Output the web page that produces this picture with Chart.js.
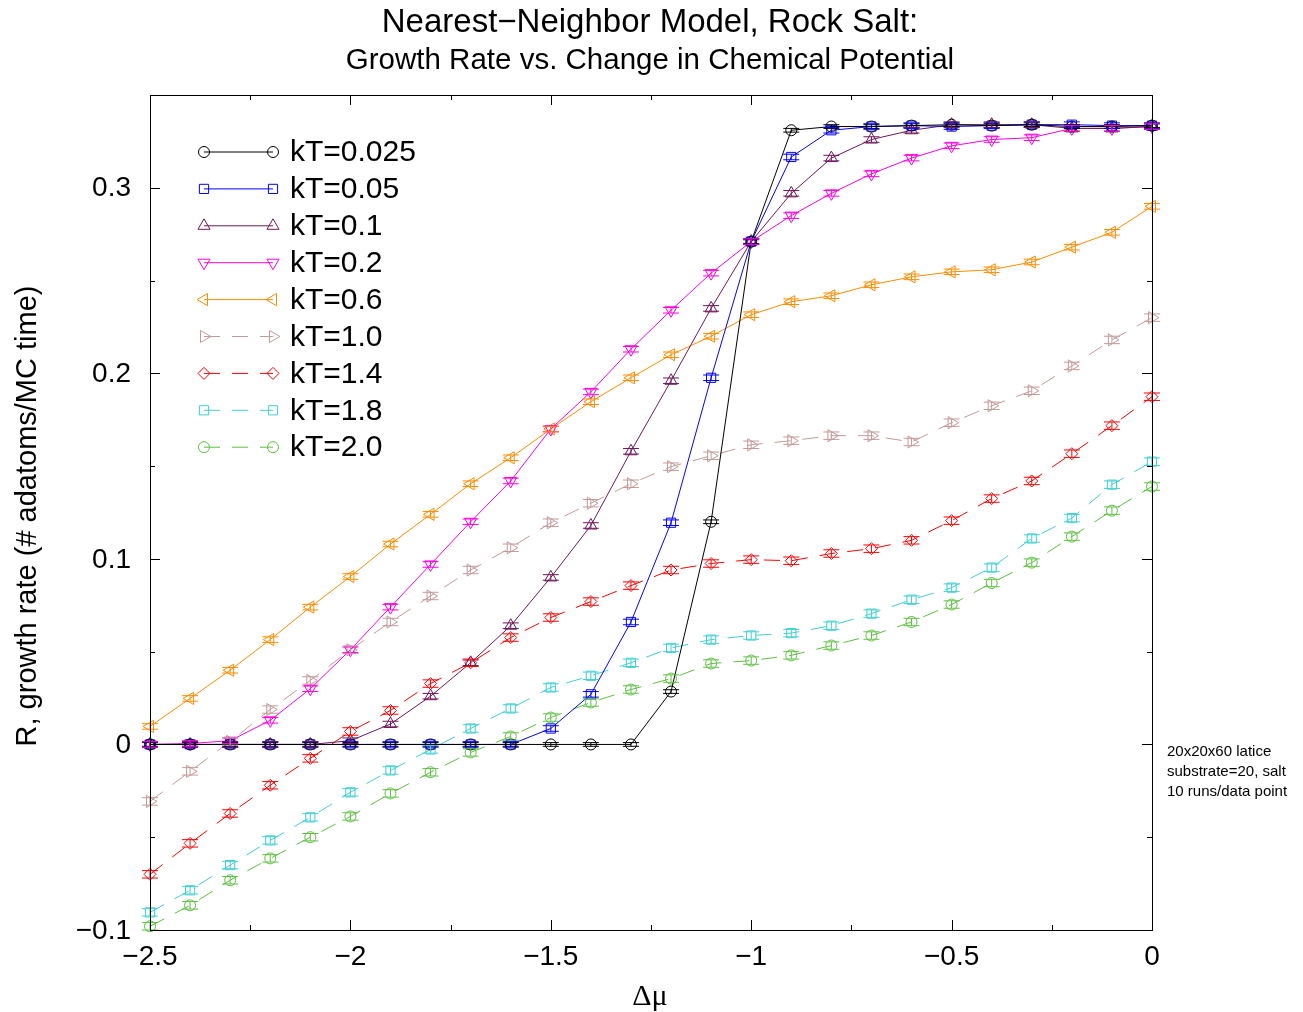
<!DOCTYPE html>
<html>
<head>
<meta charset="utf-8">
<script src="https://cdn.jsdelivr.net/npm/chart.js@4.4.1/dist/chart.umd.min.js"></script>
<style>
  body { margin: 0; background: #fff; }
  #wrap { width: 1303px; height: 1012px; }
</style>
</head>
<body>
<div id="wrap"><canvas id="chart" width="1303" height="1012"></canvas></div>
<script>
// Delta mu values (x axis)
var dmu = [-2.5, -2.4, -2.3, -2.2, -2.1, -2.0, -1.9, -1.8, -1.7, -1.6, -1.5, -1.4, -1.3,
           -1.2, -1.1, -1.0, -0.9, -0.8, -0.7, -0.6, -0.5, -0.4, -0.3, -0.2, -0.1, 0];

var kT0025 = [0, 0, 0, 0, 0, 0, 0, 0, 0, 0, 0, 0, 0,
              0.0285, 0.120, 0.271, 0.331, 0.333, 0.333, 0.3335, 0.334, 0.3335, 0.334, 0.333, 0.333, 0.3335];
var kT005 = [0, 0, 0, 0, 0, 0, 0, 0, 0, 0, 0.0086, 0.027, 0.066,
             0.1195, 0.1976, 0.271, 0.3166, 0.331, 0.333, 0.3335, 0.333, 0.3335, 0.334, 0.334, 0.3335, 0.3335];
var kT01 = [0, 0, 0, 0, 0, 0.002, 0.011, 0.026, 0.044, 0.064, 0.090, 0.118, 0.158,
            0.196, 0.235, 0.271, 0.297, 0.316, 0.326, 0.331, 0.334, 0.334, 0.334, 0.332, 0.332, 0.333];
var kT02 = [0, 0.0005, 0.002, 0.013, 0.030, 0.051, 0.074, 0.097, 0.120, 0.142, 0.170, 0.190, 0.213,
            0.234, 0.254, 0.271, 0.285, 0.297, 0.3075, 0.316, 0.3226, 0.326, 0.327, 0.332, 0.332, 0.333];
var kT06 = [0.0097, 0.0248, 0.040, 0.0565, 0.074, 0.0905, 0.108, 0.124, 0.1405, 0.1545, 0.170, 0.1847, 0.1976,
            0.210, 0.220, 0.2316, 0.2386, 0.2418, 0.2477, 0.252, 0.2547, 0.2558, 0.260, 0.268, 0.276, 0.290];
var kT10 = [-0.0307, -0.0145, 0.0016, 0.0188, 0.0345, 0.051, 0.066, 0.080, 0.094, 0.106, 0.1195, 0.130, 0.1405,
            0.1497, 0.1556, 0.1615, 0.1637, 0.1664, 0.1664, 0.163, 0.1734, 0.1825, 0.1906, 0.204, 0.218, 0.230];
var kT14 = [-0.070, -0.0533, -0.0372, -0.022, -0.0075, 0.007, 0.0183, 0.0328, 0.044, 0.0576, 0.0684, 0.077, 0.0856,
            0.094, 0.0975, 0.0996, 0.099, 0.1029, 0.1055, 0.110, 0.1206, 0.1325, 0.142, 0.1567, 0.1718, 0.1874];
var kT18 = [-0.0905, -0.0786, -0.065, -0.0517, -0.0393, -0.0258, -0.014, -0.0027, 0.0086, 0.0194, 0.0307, 0.037, 0.044,
            0.052, 0.0565, 0.0587, 0.060, 0.064, 0.0705, 0.078, 0.0845, 0.0953, 0.111, 0.122, 0.140, 0.1524];
var kT20 = [-0.098, -0.0867, -0.0732, -0.0614, -0.050, -0.0388, -0.0264, -0.015, -0.0043, 0.0043, 0.0145, 0.0226, 0.0296,
            0.0355, 0.0436, 0.0452, 0.048, 0.0533, 0.0587, 0.066, 0.0754, 0.087, 0.098, 0.112, 0.126, 0.139];

// rough error bar size per series
var errs = [0.001, 0.0015, 0.0015, 0.0015, 0.0015, 0.002, 0.002, 0.002, 0.002];

var labels = ['kT=0.025', 'kT=0.05', 'kT=0.1', 'kT=0.2', 'kT=0.6', 'kT=1.0', 'kT=1.4', 'kT=1.8', 'kT=2.0'];
var xTicks = [-2.5, -2, -1.5, -1, -0.5, 0];
var yTicks = [-0.1, 0, 0.1, 0.2, 0.3];

var seriesValues = [kT0025, kT005, kT01, kT02, kT06, kT10, kT14, kT18, kT20];
var colors = ['#000000', '#0000ff', '#6e1858', '#ff00e0', '#ff8c00', '#c39a9a', '#ff0000', '#40d0d0', '#5cc040'];
var styles = ['circle', 'rect', 'triangle', 'triangle', 'triangle', 'triangle', 'rectRot', 'rect', 'circle'];
var rotations = [0, 0, 0, 180, 270, 90, 0, 0, 0];
var radii = [5.5, 6.5, 7, 7, 7, 7, 6, 6.5, 5.5];
var dash = [[], [], [], [], [], [16, 12], [16, 12], [16, 12], [16, 12]];

var FONT = '"Liberation Sans", Arial, sans-serif';

function minus(v) {
    return String(v).replace('-', '\u2212');
}

var datasets = seriesValues.map(function(vals, i) {
    return {
        label: labels[i],
        data: vals.map(function(v, j) { return { x: dmu[j], y: v }; }),
        borderColor: colors[i],
        backgroundColor: 'rgba(0,0,0,0)',
        borderWidth: 1,
        borderDash: dash[i],
        pointStyle: styles[i],
        pointRotation: rotations[i],
        pointRadius: radii[i],
        pointBorderWidth: 1,
        pointBorderColor: colors[i],
        pointBackgroundColor: 'rgba(0,0,0,0)',
        tension: 0,
        clip: false,
        err: errs[i]
    };
});

// error bars, frame, inside ticks, tick labels, legend and texts
var decorPlugin = {
    id: 'decor',
    afterDatasetsDraw: function(chart) {
        var ctx = chart.ctx;
        var xs = chart.scales.x, ys = chart.scales.y;
        chart.data.datasets.forEach(function(ds) {
            ctx.save();
            ctx.strokeStyle = ds.borderColor;
            ctx.lineWidth = 1;
            ds.data.forEach(function(p) {
                var px = xs.getPixelForValue(p.x);
                var y1 = ys.getPixelForValue(p.y + ds.err);
                var y2 = ys.getPixelForValue(p.y - ds.err);
                ctx.beginPath();
                ctx.moveTo(px, y1); ctx.lineTo(px, y2);
                ctx.moveTo(px - 8, y1); ctx.lineTo(px + 8, y1);
                ctx.moveTo(px - 8, y2); ctx.lineTo(px + 8, y2);
                ctx.stroke();
            });
            ctx.restore();
        });
    },
    afterDraw: function(chart) {
        var ctx = chart.ctx;
        var a = chart.chartArea;
        var xs = chart.scales.x, ys = chart.scales.y;
        ctx.save();
        ctx.strokeStyle = '#000';
        ctx.lineWidth = 1;
        ctx.strokeRect(a.left + 0.5, a.top + 0.5, a.right - a.left, a.bottom - a.top);
        ctx.beginPath();
        for (var v = -2.5; v <= 0.001; v += 0.25) {
            var px = Math.round(xs.getPixelForValue(v)) + 0.5;
            var len = (Math.abs(v * 2 - Math.round(v * 2)) < 0.01) ? 10 : 5;
            ctx.moveTo(px, a.bottom); ctx.lineTo(px, a.bottom - len);
            ctx.moveTo(px, a.top); ctx.lineTo(px, a.top + len);
        }
        for (var w = -0.1; w <= 0.351; w += 0.05) {
            var py = Math.round(ys.getPixelForValue(w)) + 0.5;
            var l2 = (Math.abs(w * 10 - Math.round(w * 10)) < 0.01) ? 10 : 5;
            ctx.moveTo(a.left, py); ctx.lineTo(a.left + l2, py);
            ctx.moveTo(a.right, py); ctx.lineTo(a.right - l2, py);
        }
        ctx.stroke();

        // tick labels
        ctx.fillStyle = '#000';
        ctx.font = '28px ' + FONT;
        ctx.textBaseline = 'middle';
        ctx.textAlign = 'center';
        xTicks.forEach(function(t) {
            ctx.fillText(minus(t), xs.getPixelForValue(t), 957);
        });
        ctx.textAlign = 'right';
        yTicks.forEach(function(t) {
            ctx.fillText(minus(t), 131, ys.getPixelForValue(t) + 1);
        });

        // legend
        chart.data.datasets.forEach(function(ds, i) {
            var ly = 152 + i * 36.9;
            ctx.save();
            ctx.strokeStyle = ds.borderColor;
            ctx.lineWidth = 1;
            ctx.setLineDash(ds.borderDash);
            ctx.beginPath();
            ctx.moveTo(204, ly); ctx.lineTo(273, ly);
            ctx.stroke();
            ctx.setLineDash([]);
            ctx.fillStyle = 'rgba(0,0,0,0)';
            var opts = { pointStyle: ds.pointStyle, rotation: ds.pointRotation, radius: ds.pointRadius, borderWidth: 1 };
            if (Chart.helpers && Chart.helpers.drawPoint) {
                Chart.helpers.drawPoint(ctx, opts, 204, ly);
                Chart.helpers.drawPoint(ctx, opts, 273, ly);
            }
            ctx.restore();
            ctx.fillStyle = '#000';
            ctx.font = '30px ' + FONT;
            ctx.textAlign = 'left';
            ctx.textBaseline = 'middle';
            ctx.fillText(ds.label, 290, ly + 1);
        });

        // titles
        ctx.fillStyle = '#000';
        ctx.textAlign = 'center';
        ctx.textBaseline = 'middle';
        ctx.font = '33px ' + FONT;
        ctx.fillText('Nearest\u2212Neighbor Model, Rock Salt:', 650, 23);
        ctx.font = '29.5px ' + FONT;
        ctx.fillText('Growth Rate vs. Change in Chemical Potential', 650, 61);
        ctx.font = '30px "Liberation Serif", "DejaVu Serif", serif';
        ctx.fillText('\u0394\u03bc', 650, 997);

        ctx.save();
        ctx.translate(28, 516);
        ctx.rotate(-Math.PI / 2);
        ctx.font = '29px ' + FONT;
        ctx.fillText('R, growth rate (# adatoms/MC time)', 0, 0);
        ctx.restore();

        ctx.textAlign = 'left';
        ctx.font = '15px ' + FONT;
        ctx.fillText('20x20x60 latice', 1167, 752);
        ctx.fillText('substrate=20, salt', 1167, 772);
        ctx.fillText('10 runs/data point', 1167, 792);
        ctx.restore();
    }
};

var ctx = document.getElementById('chart').getContext('2d');
var chart = new Chart(ctx, {
    type: 'line',
    data: { datasets: datasets },
    plugins: [decorPlugin],
    options: {
        responsive: false,
        animation: false,
        layout: { padding: { left: 0, right: 151, top: 95, bottom: 0 } },
        plugins: {
            legend: { display: false },
            tooltip: { enabled: false },
            title: { display: false }
        },
        scales: {
            x: {
                type: 'linear',
                min: -2.5,
                max: 0,
                grid: { display: false },
                border: { display: false },
                ticks: { display: false },
                afterFit: function(scale) { scale.height = 82; }
            },
            y: {
                type: 'linear',
                min: -0.1,
                max: 0.35,
                grid: { display: false },
                border: { display: false },
                ticks: { display: false },
                afterFit: function(scale) { scale.width = 150; }
            }
        }
    }
});
</script>
</body>
</html>
